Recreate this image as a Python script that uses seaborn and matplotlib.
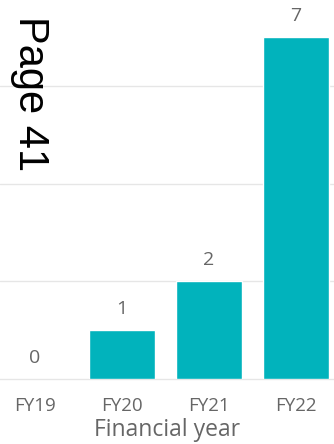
import matplotlib
matplotlib.use("Agg")
import matplotlib.pyplot as plt
import seaborn as sns
import pandas as pd

categories = ["FY19", "FY20", "FY21", "FY22"]
values = [0, 1, 2, 7]
y_ticks = [2, 4, 6]

df = pd.DataFrame({"year": categories, "count": values})

sns.set_theme(style="white")
plt.rcParams['font.family'] = ['Open Sans', 'DejaVu Sans']

W, H = 334, 444
fig = plt.figure(figsize=(W / 100, H / 100), dpi=100)
ax = fig.add_axes([0, (H - 379) / H, 1, 379 / H])

sns.barplot(data=df, x="year", y="count", color="#01B3BC", saturation=1,
            width=0.77, ax=ax, zorder=3)

ax.set_xlim(-35 / 87, (W - 35) / 87)
ax.set_ylim(0, 379 / 48.8)
ax.set_yticks(y_ticks)
ax.yaxis.grid(True, color="#E6E6E6", linewidth=1)
ax.tick_params(axis="y", left=False, labelleft=False)
ax.tick_params(axis="x", bottom=False, labelsize=13.5, labelcolor="#666666", pad=7)
for s in ["top", "left", "right"]:
    ax.spines[s].set_visible(False)
ax.spines["bottom"].set_color("#E6E6E6")
ax.spines["bottom"].set_linewidth(1)
ax.set_ylabel("")
ax.set_xlabel("")

fig.text(167 / W, 1 - 430 / H, "Financial year", ha="center", va="center",
         fontsize=16.5, color="#666666")

for i, v in enumerate(values):
    ax.annotate(str(v), (i, v), xytext=(0, 9), textcoords="offset points",
                ha="center", va="bottom", fontsize=14, color="#666666")

fig.text(30 / W, 1 - 16 / H, "Page 41", rotation=-90, ha="center", va="top",
         fontsize=30, color="black", family=["Liberation Sans", "DejaVu Sans"])

fig.savefig("out.png", dpi=100)
